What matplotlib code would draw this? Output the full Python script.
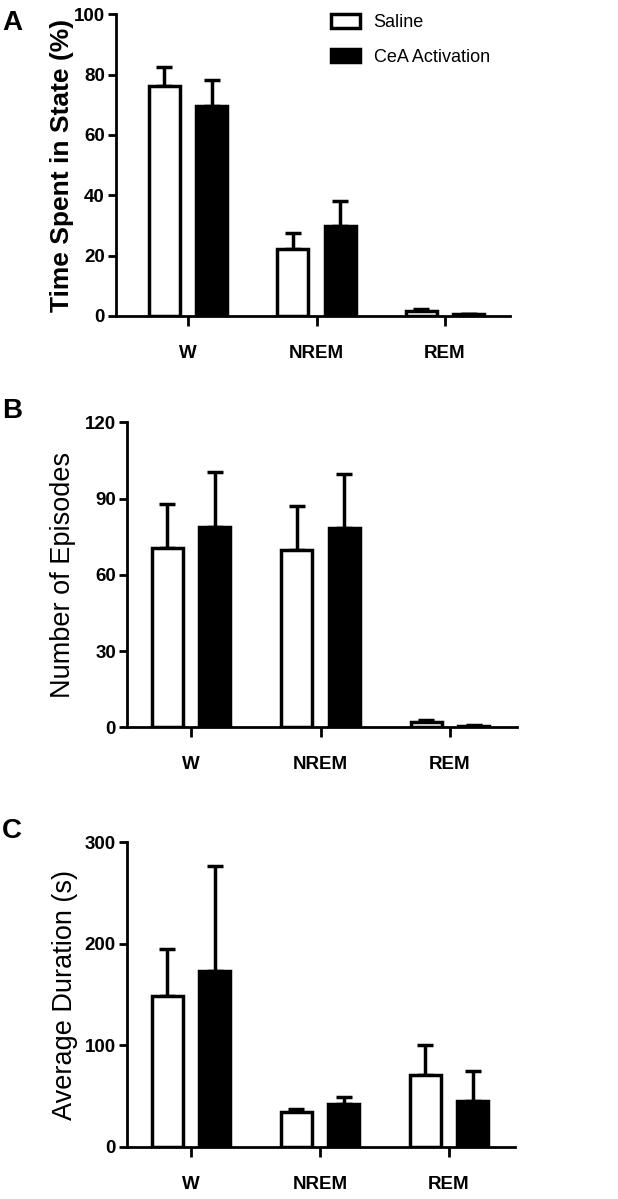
import numpy as np
import matplotlib
matplotlib.use("Agg")
import matplotlib.pyplot as plt

plt.rcParams['font.family'] = ['Liberation Sans', 'DejaVu Sans']

states = ['W', 'NREM', 'REM']
groups = ['Saline', 'CeA Activation']

# panel A: time spent in state (%)
time_saline = [76.4, 22.1, 1.5]
time_saline_err = [6.0, 5.5, 0.7]
time_cea = [69.6, 29.9, 0.5]
time_cea_err = [8.6, 8.3, 0.2]

# panel B: number of episodes
ep_saline = [70.4, 69.8, 2.0]
ep_saline_err = [17.5, 17.4, 1.0]
ep_cea = [78.9, 78.4, 0.7]
ep_cea_err = [21.4, 21.4, 0.2]

# panel C: average duration (s)
dur_saline = [148.5, 34.2, 70.3]
dur_saline_err = [46.4, 3.3, 29.6]
dur_cea = [173.5, 42.0, 44.7]
dur_cea_err = [103.5, 7.3, 29.9]

fig = plt.figure(figsize=(6.18, 11.99), dpi=100)

# axes rectangles from pixel coords (left, top, right, bottom)
W, H = 618.0, 1199.0
boxes = [(116, 14.3, 510, 316), (127, 422.3, 517, 727.3), (127, 842.3, 515, 1146.7)]
tick_px = [(188, 128.5), (191, 129.5), (191, 129.0)]

panels = [
    (time_saline, time_saline_err, time_cea, time_cea_err, 100, [0, 20, 40, 60, 80, 100],
     'Time Spent in State (%)', 'bold', 62, 19),
    (ep_saline, ep_saline_err, ep_cea, ep_cea_err, 120, [0, 30, 60, 90, 120],
     'Number of Episodes', 'normal', 63, 19.5),
    (dur_saline, dur_saline_err, dur_cea, dur_cea_err, 300, [0, 100, 200, 300],
     'Average Duration (s)', 'normal', 65, 19.5),
]
letters = ['A', 'B', 'C']
letter_y = [23, 411, 831]

x = np.arange(len(states))
bw = 0.24
off = 0.185
lw = 2.5

axes = []
for i, (box, tp, p) in enumerate(zip(boxes, tick_px, panels)):
    l, t, r, b = box
    ax = fig.add_axes([l / W, 1 - b / H, (r - l) / W, (b - t) / H])
    axes.append(ax)
    s, se, c, ce, ymax, yt, lab, wt, labx, labsz = p
    t0, sp = tp
    ax.set_xlim((l - t0) / sp, (r - t0) / sp)
    ax.set_ylim(0, ymax)

    ax.errorbar(x - off, s, yerr=[np.zeros(3), se], fmt='none', ecolor='black',
                elinewidth=lw, capsize=6, capthick=lw, zorder=1)
    ax.errorbar(x + off, c, yerr=[np.zeros(3), ce], fmt='none', ecolor='black',
                elinewidth=lw, capsize=6, capthick=lw, zorder=1)
    ax.bar(x - off, s, bw, facecolor='white', edgecolor='black', linewidth=lw,
           zorder=2, label=groups[0])
    ax.bar(x + off, c, bw, facecolor='black', edgecolor='black', linewidth=lw,
           zorder=2, label=groups[1])

    for side in ['top', 'right']:
        ax.spines[side].set_visible(False)
    for side in ['left', 'bottom']:
        ax.spines[side].set_linewidth(2)
    ax.set_yticks(yt)
    ax.set_xticks(x)
    ax.set_xticklabels(states)
    ax.tick_params(axis='y', length=6, width=2, labelsize=13.5, pad=2)
    ax.tick_params(axis='x', length=7, width=2, labelsize=13.5, pad=14)
    for tl in ax.get_xticklabels() + ax.get_yticklabels():
        tl.set_fontweight('bold')

    ax.set_ylabel(lab, fontsize=labsz, fontweight=wt)
    ax.yaxis.set_label_coords((labx - l) / (r - l), 0.5)
    ax.yaxis.label.set_va('center')

    fig.text(2 / W, 1 - letter_y[i] / H, letters[i], fontsize=20, fontweight='bold',
             ha='left', va='center')

leg = axes[0].legend(loc='upper left', bbox_to_anchor=(0.546, 1.0), frameon=False,
                     fontsize=13, handlelength=1.6, handleheight=0.8,
                     handletextpad=0.75, labelspacing=0.95, borderpad=0,
                     borderaxespad=0)

fig.savefig('out.png', dpi=100)
